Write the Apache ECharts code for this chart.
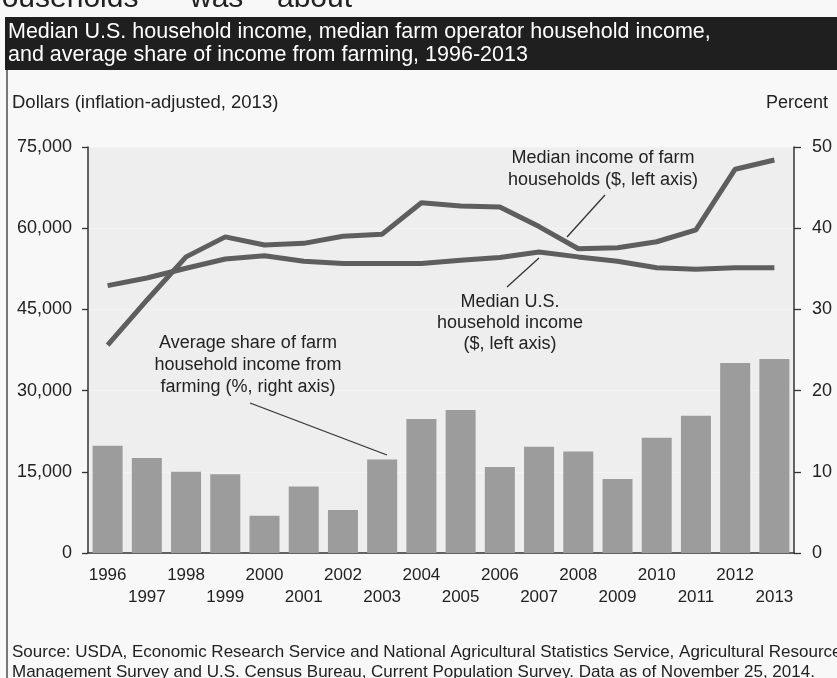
<!DOCTYPE html>
<html>
<head>
<meta charset="utf-8">
<script src="https://cdn.jsdelivr.net/npm/echarts@6/dist/echarts.min.js"></script>
<style>
  html, body { margin: 0; padding: 0; background: #f8f8f8; }
  #chart { width: 837px; height: 678px; }
</style>
</head>
<body>
<div id="chart"></div>
<script>
        // Years on the category axis
        const years = ['1996', '1997', '1998', '1999', '2000', '2001', '2002', '2003', '2004',
                       '2005', '2006', '2007', '2008', '2009', '2010', '2011', '2012', '2013'];
        // Median U.S. household income ($, left axis)
        const usIncome = [49400, 50800, 52600, 54300, 54900, 53900, 53500, 53500, 53500,
                          54100, 54600, 55600, 54700, 53900, 52700, 52400, 52700, 52700];
        // Median income of farm households ($, left axis)
        const farmIncome = [38400, 46700, 54700, 58400, 56900, 57200, 58500, 58900, 64700,
                            64100, 63900, 60300, 56200, 56400, 57500, 59700, 70900, 72600];
        // Average share of farm household income from farming (%, right axis)
        const farmShare = [13.2, 11.7, 10.0, 9.7, 4.6, 8.2, 5.3, 11.5, 16.5,
                           17.6, 10.6, 13.1, 12.5, 9.1, 14.2, 16.9, 23.4, 23.9];

        const FONT = "'Liberation Sans', Arial, sans-serif";
        const INK = '#222';

        const chartDom = document.getElementById('chart');
        const myChart = echarts.init(chartDom);

        // small helpers for graphic text and leader lines
        function label(text, x, y, size, extra) {
            return {
                type: 'text',
                x: x,
                y: y,
                z: 100,
                style: Object.assign({
                    text: text,
                    fill: INK,
                    font: size + 'px ' + FONT,
                    align: 'left',
                    verticalAlign: 'middle'
                }, extra || {})
            };
        }
        function leader(x1, y1, x2, y2) {
            return {
                type: 'line',
                z: 100,
                shape: {x1: x1, y1: y1, x2: x2, y2: y2},
                style: {stroke: '#333', lineWidth: 1.3}
            };
        }

        const option = {
            backgroundColor: '#f8f8f8',
            animation: false,
            grid: {
                left: 88,
                right: 43,
                top: 147,
                bottom: 125,
                show: true,
                backgroundColor: '#eeeeee',
                borderWidth: 0
            },
            xAxis: [
                {
                    type: 'category',
                    data: years,
                    position: 'bottom',
                    axisLine: {lineStyle: {color: '#333', width: 1.5}},
                    axisTick: {
                        alignWithLabel: true,
                        length: 6,
                        lineStyle: {color: '#333', width: 1.3},
                        interval: function (index) { return index % 2 === 0; }
                    },
                    axisLabel: {
                        interval: 0,
                        margin: 11,
                        color: INK,
                        fontFamily: FONT,
                        fontSize: 17,
                        lineHeight: 22,
                        formatter: function (value, index) {
                            return index % 2 ? '\n' + value : value;
                        }
                    }
                },
                {
                    type: 'category',
                    data: years,
                    position: 'bottom',
                    axisLine: {show: false},
                    axisLabel: {show: false},
                    axisTick: {
                        alignWithLabel: true,
                        length: 29,
                        lineStyle: {color: '#333', width: 1.3},
                        interval: function (index) { return index % 2 === 1; }
                    }
                }
            ],
            yAxis: [
                {
                    type: 'value',
                    min: 0,
                    max: 75000,
                    interval: 15000,
                    axisLine: {show: true, lineStyle: {color: '#333', width: 1.5}},
                    axisTick: {show: true, length: 6, lineStyle: {color: '#333', width: 1.3}},
                    axisLabel: {
                        margin: 16,
                        color: INK,
                        fontFamily: FONT,
                        fontSize: 18
                    },
                    splitLine: {show: true, lineStyle: {color: '#f3f3f3', width: 1}}
                },
                {
                    type: 'value',
                    min: 0,
                    max: 50,
                    interval: 10,
                    position: 'right',
                    axisLine: {show: true, lineStyle: {color: '#333', width: 1.5}},
                    axisTick: {show: true, length: 7, lineStyle: {color: '#333', width: 1.3}},
                    axisLabel: {
                        margin: 18,
                        color: INK,
                        fontFamily: FONT,
                        fontSize: 18
                    },
                    splitLine: {show: false}
                }
            ],
            series: [
                {
                    name: 'Average share of farm household income from farming',
                    type: 'bar',
                    yAxisIndex: 1,
                    barWidth: 30,
                    itemStyle: {color: '#9c9c9c'},
                    data: farmShare
                },
                {
                    name: 'Median U.S. household income',
                    type: 'line',
                    yAxisIndex: 0,
                    symbol: 'none',
                    lineStyle: {color: '#5e5e5e', width: 5},
                    data: usIncome
                },
                {
                    name: 'Median income of farm households',
                    type: 'line',
                    yAxisIndex: 0,
                    symbol: 'none',
                    lineStyle: {color: '#5e5e5e', width: 5},
                    data: farmIncome
                }
            ],
            graphic: [
                // clipped line of page text above the figure
                label('households', -15, -1, 30),
                label('was', 190, -1, 30),
                label('about', 277, -1, 30),
                // title band
                {
                    type: 'rect',
                    z: 90,
                    shape: {x: 5, y: 17, width: 832, height: 53},
                    style: {fill: '#1f1f1f'}
                },
                label('Median U.S. household income, median farm operator household income,', 8, 32, 21.5, {fill: '#ffffff'}),
                label('and average share of income from farming, 1996-2013', 8, 55, 21.5, {fill: '#ffffff'}),
                // frame edge
                leader(7, 70, 7, 678),
                // axis captions
                label('Dollars (inflation-adjusted, 2013)', 12, 103, 18.5),
                label('Percent', 828, 103, 18, {align: 'right'}),
                // annotations
                label('Median income of farm\nhouseholds ($, left axis)', 603, 147, 18,
                      {align: 'center', verticalAlign: 'top', lineHeight: 22}),
                leader(605, 195, 567, 237),
                label('Median U.S.\nhousehold income\n($, left axis)', 510, 292, 18,
                      {align: 'center', verticalAlign: 'top', lineHeight: 21}),
                leader(539, 258, 507, 287),
                label('Average share of farm\nhousehold income from\nfarming (%, right axis)', 248, 332, 18,
                      {align: 'center', verticalAlign: 'top', lineHeight: 22}),
                leader(250, 403, 387, 455),
                // source note
                label('Source: USDA, Economic Research Service and National Agricultural Statistics Service, Agricultural Resource', 12, 652, 17),
                label('Management Survey and U.S. Census Bureau, Current Population Survey. Data as of November 25, 2014.', 12, 672, 17)
            ]
        };

        myChart.setOption(option);
</script>
</body>
</html>
